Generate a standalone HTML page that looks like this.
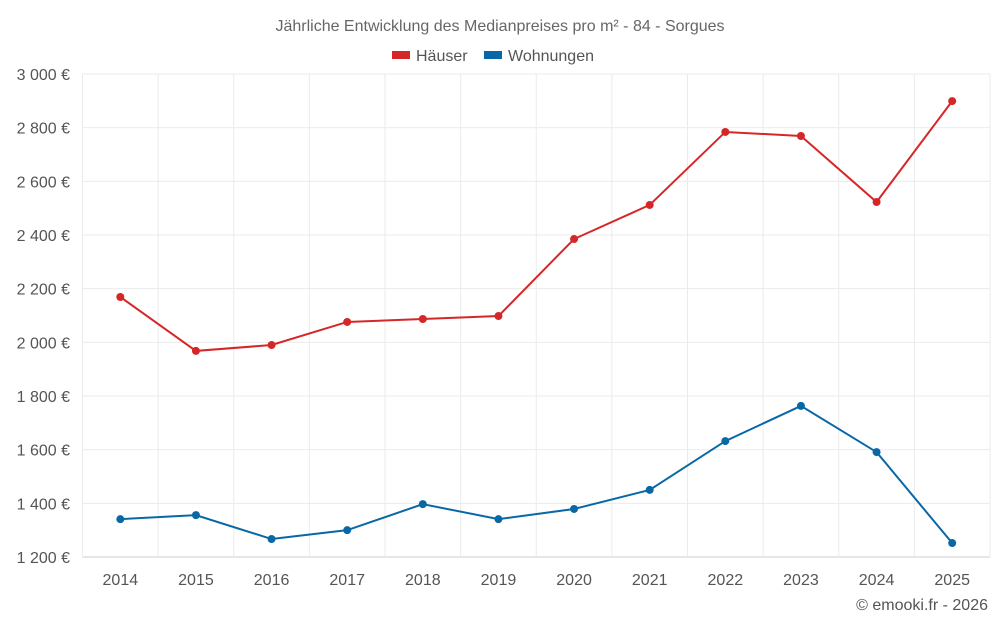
<!DOCTYPE html>
<html><head><meta charset="utf-8"><style>
body{margin:0;background:#fff;font-family:"Liberation Sans",sans-serif;}
svg text{font-family:"Liberation Sans",sans-serif;}
</style></head><body>
<svg id="chart" width="1000" height="625">
<text x="500" y="31" text-anchor="middle" font-size="16" fill="#666">Jährliche Entwicklung des Medianpreises pro m² - 84 - Sorgues</text>
<g>
<g><rect x="392" y="51" width="18" height="8" fill="#d62728"/><text x="416" y="61" font-size="16" fill="#555">Häuser</text></g>
<g><rect x="484" y="51" width="18" height="8" fill="#0868a6"/><text x="508" y="61" font-size="16" fill="#555">Wohnungen</text></g>
</g>
<g id="grid"></g>
<g id="axes"></g>
<g id="series"></g>
<text x="988" y="610" text-anchor="end" font-size="16" fill="#555">© emooki.fr - 2026</text>
</svg>
<script>
const years = [2014,2015,2016,2017,2018,2019,2020,2021,2022,2023,2024,2025];
const haeuser = [2169,1968,1990,2076,2087,2098,2385,2512,2784,2769,2523,2899];
const wohnungen = [1341,1356,1267,1300,1397,1341,1379,1450,1632,1763,1591,1252];
const yTicks = [1200,1400,1600,1800,2000,2200,2400,2600,2800,3000];
const yTickLabels = ["1 200 €","1 400 €","1 600 €","1 800 €","2 000 €","2 200 €","2 400 €","2 600 €","2 800 €","3 000 €"];

const NS="http://www.w3.org/2000/svg";
const L=82.5,R=990,T=74,B=557,yMin=1200,yMax=3000;
const band=(R-L)/years.length;
function xs(i){return L+band*(i+0.5);}
function ys(v){return B-(v-yMin)/(yMax-yMin)*(B-T);}
function mk(tag,attrs,parent){const e=document.createElementNS(NS,tag);for(const k in attrs)e.setAttribute(k,attrs[k]);parent.appendChild(e);return e;}
const grid=document.getElementById('grid'),axes=document.getElementById('axes'),series=document.getElementById('series');
yTicks.forEach((v,i)=>{
 const l=mk('line',{x1:L,x2:R,y1:ys(v),y2:ys(v),stroke:i==0?'#ccc':'#ebebeb','stroke-width':1},grid);
 
 
 const t=mk('text',{x:70,y:ys(v)+6,'text-anchor':'end','font-size':16,fill:'#555'},axes);
 t.textContent=yTickLabels[i];
 
 
});
for(let i=0;i<=years.length;i++){
 const l=mk('line',{x1:L+band*i,x2:L+band*i,y1:T,y2:B,stroke:'#ebebeb','stroke-width':1},grid);
 
 
}
years.forEach((y,i)=>{
 const t=mk('text',{x:xs(i),y:585,'text-anchor':'middle','font-size':16,fill:'#555'},axes);
 t.textContent=y;
 
 
});
function draw(vals,color,name){
 const p=mk('polyline',{points:vals.map((v,i)=>xs(i)+','+ys(v)).join(' '),fill:'none',stroke:color,'stroke-width':2},series);
 
 
 vals.forEach((v,i)=>{
  const c=mk('circle',{cx:xs(i),cy:ys(v),r:4,fill:color},series);
  
  
 });
}
draw(haeuser,'#d62728','haeuser');
draw(wohnungen,'#0868a6','wohnungen');
</script>
</body></html>
